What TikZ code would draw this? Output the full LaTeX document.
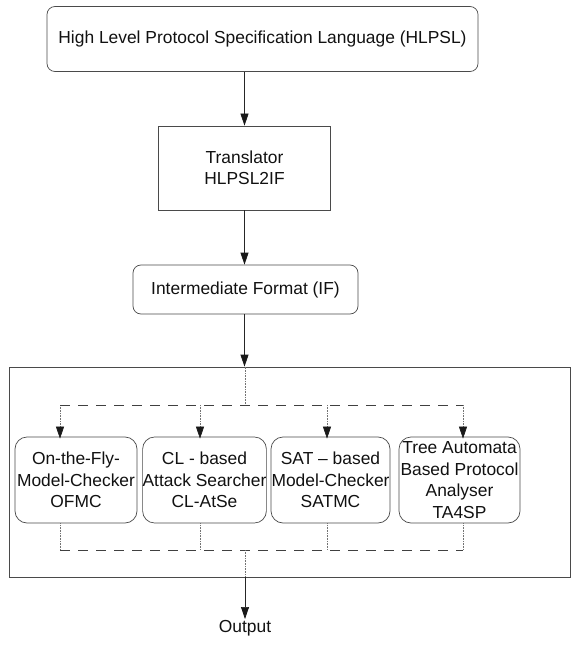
\documentclass[tikz,border=0pt]{standalone}
\usepackage{fontspec}
\setmainfont{Liberation Sans}
\usetikzlibrary{arrows.meta}
\definecolor{myboxcolor}{HTML}{4a4a4a}
\definecolor{mytextcolor}{HTML}{111111}
\tikzset{
  mybox/.style={draw=myboxcolor, line width=0.7bp, rounded corners=8bp, align=center, inner sep=0pt, text=mytextcolor, font=\fontsize{17.4bp}{21.5bp}\selectfont},
  mytool/.style={mybox, minimum height=86bp, rounded corners=12bp},
  mytip/.style={-{Triangle[length=12bp,width=8bp,color=black!90]}},
  myarrow/.style={draw=black!85, line width=0.7bp, mytip},
  mydash/.style={draw=black!75, line width=0.7bp, dash pattern=on 10bp off 8bp},
  mydot/.style={draw=black!55, line width=0.6bp, densely dotted},
}

\begin{document}
\begin{tikzpicture}[x=1bp,y=-1bp]%
\useasboundingbox (0,0) rectangle (572,645);%
\node[mybox, minimum width=431bp, minimum height=65bp] (hlpsl) at (262.5,39) {High Level Protocol Specification Language (HLPSL)};%
\node[mybox, rounded corners=0pt, minimum width=172bp, minimum height=84bp] (trans) at (244.5,168) {Translator\\HLPSL2IF};%
\node[mybox, minimum width=225bp, minimum height=49bp] (interf) at (245.5,289.5) {Intermediate Format (IF)};%
\node[draw=myboxcolor, line width=0.7bp, minimum width=561bp, minimum height=210bp] (toolbox) at (289.5,472) {};%
\node[mytool, minimum width=122bp] (ofmc) at (76,480) {On-the-Fly-\\Model-Checker\\OFMC};%
\node[mytool, minimum width=123bp] (clatse) at (204.5,480) {CL - based\\Attack Searcher\\CL-AtSe};%
\node[mytool, minimum width=119bp] (satmc) at (330.5,480) {SAT -- based\\Model-Checker\\SATMC};%
\node[mytool, minimum width=121bp] (tasp) at (459.5,480) {Tree Automata\\Based Protocol\\Analyser\\TA4SP};%
\node[anchor=north, inner sep=1bp, text=mytextcolor, font=\fontsize{17.4bp}{21.5bp}\selectfont] (out) at (245,619) {Output};%
\coordinate (split) at (245,405);%
\coordinate (join) at (245,550);%
% main chain
\draw[myarrow] (hlpsl.south -| trans) -- (trans);%
\draw[myarrow] (trans) -- (trans |- interf.north);%
\draw[myarrow] (interf.south -| trans) -- (trans |- toolbox.north);%
% fan out to the four back-ends
\draw[mydot] (split |- toolbox.north) -- (split);%
\foreach \n/\x in {ofmc/60, clatse/200, satmc/327, tasp/463} {%
  \coordinate (\n-in) at (\x,405);%
  \coordinate (\n-out) at (\x,550);%
  \draw[mydot, mytip] (\n-in) -- ([yshift=-2bp]\n-in |- \n.north);%
  \draw[mydot] (\n-out |- \n.south) -- (\n-out);%
}%
\draw[mydash] (ofmc-in) -- (tasp-in);%
\draw[mydash] (ofmc-out) -- (tasp-out);%
% collect to output
\draw[mydot] (join) -- (join |- toolbox.south);%
\draw[myarrow] (join |- toolbox.south) -- (out);%
\end{tikzpicture}
\end{document}
